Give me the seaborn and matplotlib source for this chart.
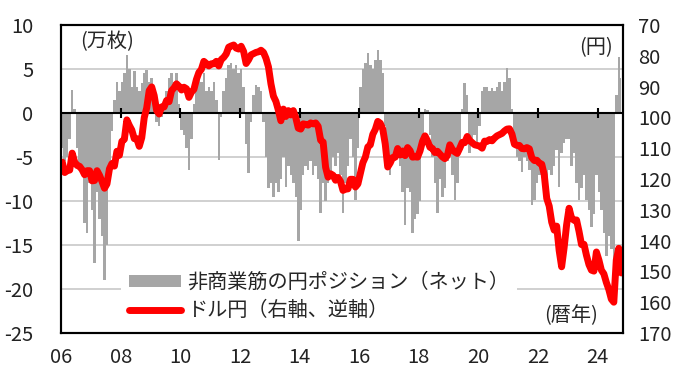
import matplotlib
matplotlib.use("Agg")
import numpy as np
import pandas as pd
import matplotlib.pyplot as plt
import seaborn as sns

# 非商業筋の円ポジション（ネット、万枚）, monthly, Jan 2006 - Oct 2024
pos_2006 = [-4, -5.5, -5, -3, 2.6, 0.5, -4, -6, -7, -12.5, -13.6, -8]
pos_2007 = [-11, -17, -9, -12, -14, -19, -15, -6, -2, 1.5, 3.5, 2.5]
pos_2008 = [3.5, 4.5, 6.6, 5, 3, 4.8, 3, 2.5, 3.4, 4.5, 4.9, 3.5]
pos_2009 = [4, 2, -1, -1.5, -0.5, 1.5, 2.5, 4, 4.5, 3.5, 4.5, 1]
pos_2010 = [-1.9, -2.5, -4, -6.5, -3, 1, 3, 4.5, 3.5, 4.5, 2.5, 3]
pos_2011 = [2.5, 3.5, 1.5, -5.3, -0.5, 2.5, 4, 5.5, 5.7, 5, 5.5, 4.5]
pos_2012 = [5, 3, -3.5, -6.8, -1, 2, 3.2, 3, 2.5, -1, -5, -8.5]
pos_2013 = [-8, -9.5, -8, -9, -7.5, -5, -8.4, -6, -7, -8, -9.5, -14.5]
pos_2014 = [-11, -7, -6, -6.5, -5.5, -7, -6, -7.5, -11.4, -8, -10, -8]
pos_2015 = [-7, -5, -6, -4.5, -7, -11.4, -8, -6, -3, -5, -9.9, -4]
pos_2016 = [3, 5, 5.7, 6.8, 5.5, 5, 6, 7.2, 6, 4.5, -1.5, -6]
pos_2017 = [-7, -5, -5.5, -4, -6, -9, -12.7, -8.5, -9, -13.6, -12, -11.5]
pos_2018 = [-10, -3.5, 0.5, 0.3, -2.5, -5, -8, -11.4, -7.5, -9.5, -8.5, -5.5]
pos_2019 = [-4, -7, -9.9, -8, -4.5, 0.5, 3.4, 2, -4.5, -3.5, -2.5, -3.5]
pos_2020 = [-1.5, 2.5, 3, 3, 2.5, 2.8, 2.5, 3, 3.5, 2.5, 3.5, 5.1]
pos_2021 = [4, 0.5, -3, -5, -5.5, -6.7, -5, -5.5, -6.5, -10.5, -9.9, -8]
pos_2022 = [-7, -6, -8.4, -7.3, -6.5, -7, -6, -4.2, -8.4, -4.5, -3.4, -3]
pos_2023 = [-3, -6, -4.5, -8, -9.9, -8.5, -7, -9.9, -11, -12.9, -11.5, -7]
pos_2024 = [-9, -11, -13.6, -16.3, -14, -15.5, -18, 2, 6.4, 4]

# ドル円（円）, monthly
fx_2006 = [114.5, 117.9, 117.3, 117.1, 111.6, 114.5, 115.6, 115.9, 117.0, 118.6, 117.3, 117.3]
fx_2007 = [120.6, 120.5, 117.3, 118.8, 120.8, 123.0, 121.6, 116.7, 115.0, 115.8, 111.0, 112.3]
fx_2008 = [107.8, 107.1, 100.8, 102.6, 104.1, 106.9, 106.9, 109.4, 106.6, 100.1, 96.9, 91.3]
fx_2009 = [90.1, 92.9, 97.8, 98.9, 96.6, 96.6, 94.5, 94.9, 91.3, 90.4, 89.1, 89.9]
fx_2010 = [91.1, 90.2, 90.7, 93.5, 91.8, 90.9, 87.7, 85.4, 84.4, 81.8, 82.5, 83.3]
fx_2011 = [82.6, 82.6, 81.8, 83.3, 81.2, 80.5, 79.4, 77.2, 76.8, 76.5, 77.5, 77.8]
fx_2012 = [76.9, 78.6, 82.5, 81.3, 79.7, 79.3, 78.9, 78.7, 78.2, 78.9, 80.8, 83.6]
fx_2013 = [89.1, 93.1, 94.8, 97.7, 101.1, 97.3, 99.7, 97.8, 99.2, 97.8, 100.1, 103.5]
fx_2014 = [103.8, 102.1, 102.3, 102.5, 101.8, 102.1, 101.8, 102.9, 107.4, 108.0, 116.2, 119.4]
fx_2015 = [118.3, 118.8, 120.4, 119.5, 120.8, 123.7, 123.3, 123.2, 120.1, 120.1, 122.6, 121.6]
fx_2016 = [118.2, 114.7, 112.9, 109.6, 108.9, 105.5, 103.9, 101.3, 101.9, 103.8, 108.6, 116.1]
fx_2017 = [114.8, 113.0, 112.9, 110.1, 112.2, 110.9, 112.4, 109.8, 110.8, 112.9, 112.8, 112.9]
fx_2018 = [110.9, 107.8, 106.0, 107.6, 109.7, 110.1, 111.4, 111.0, 111.9, 112.8, 113.4, 112.4]
fx_2019 = [108.9, 110.4, 111.2, 111.7, 110.0, 108.1, 108.2, 106.2, 107.5, 108.2, 108.9, 109.1]
fx_2020 = [109.3, 110.0, 107.7, 107.8, 107.2, 107.6, 106.7, 106.0, 105.6, 105.2, 104.4, 103.8]
fx_2021 = [103.7, 105.4, 108.7, 109.1, 109.1, 110.1, 110.2, 109.8, 110.2, 113.1, 114.0, 113.9]
fx_2022 = [114.8, 115.2, 118.6, 126.3, 128.8, 134.0, 136.6, 135.3, 143.2, 148.5, 142.3, 134.9]
fx_2023 = [129.5, 132.7, 133.4, 133.3, 137.0, 141.3, 141.2, 144.8, 147.8, 149.6, 149.9, 143.7]
fx_2024 = [146.3, 149.6, 150.8, 153.6, 155.9, 159.0, 160.0, 146.3, 142.5, 150.5]

tick_years = list(range(2006, 2025, 2))
tick_labels = [f"{y % 100:02d}" for y in tick_years]

position = np.concatenate([pos_2006, pos_2007, pos_2008, pos_2009, pos_2010, pos_2011,
                           pos_2012, pos_2013, pos_2014, pos_2015, pos_2016, pos_2017,
                           pos_2018, pos_2019, pos_2020, pos_2021, pos_2022, pos_2023, pos_2024])
usdjpy = np.concatenate([fx_2006, fx_2007, fx_2008, fx_2009, fx_2010, fx_2011,
                         fx_2012, fx_2013, fx_2014, fx_2015, fx_2016, fx_2017,
                         fx_2018, fx_2019, fx_2020, fx_2021, fx_2022, fx_2023, fx_2024])
t = 2006 + (np.arange(len(position)) + 0.5) / 12
df = pd.DataFrame({"t": t, "pos": position, "fx": usdjpy})

sns.set_theme(style="white")
plt.rcParams["font.family"] = ["Noto Sans CJK JP", "DejaVu Sans"]
plt.rcParams["axes.unicode_minus"] = False
fs = 14.5

fig = plt.figure(figsize=(6.8, 3.76), dpi=100)
ax = fig.add_axes([61 / 680, 43 / 376, 562 / 680, 308 / 376])

gray = ax.fill_between(df["t"], df["pos"], 0, step="mid", color="#a6a6a6", linewidth=0,
                       label="非商業筋の円ポジション（ネット）")
ax.axhline(0, color="black", lw=1.5, zorder=3)
ax.vlines(tick_years[1:], -0.6, 0.6, color="black", lw=1.5, zorder=3)
ax.set_ylim(-25, 10)
ax.set_yticks(range(-25, 11, 5))
ax.set_xlim(2006, 2024.85)
ax.set_xticks(tick_years)
ax.set_xticklabels(tick_labels)
ax.yaxis.grid(True, color="#c8c8c8", lw=1.2)
ax.xaxis.grid(False)
ax.set_axisbelow(True)
ax.tick_params(axis="y", length=0, pad=20, labelsize=fs, colors="#222222")
ax.tick_params(axis="x", length=0, pad=10, labelsize=fs, colors="#222222")

ax2 = ax.twinx()
sns.lineplot(data=df, x="t", y="fx", ax=ax2, color="#ff0000", lw=5,
             label="ドル円（右軸、逆軸）")
ax2.set_ylim(170, 70)
ax2.set_yticks(range(70, 171, 10))
ax2.set_xlabel("")
ax2.set_ylabel("")
ax2.tick_params(axis="y", length=0, pad=11, labelsize=fs, colors="#222222")
ax2.get_legend().remove()

for a in (ax, ax2):
    for s in a.spines.values():
        s.set_color("black")
        s.set_linewidth(1.5)

handles = [gray, ax2.get_lines()[0]]
labels = ["非商業筋の円ポジション（ネット）", "ドル円（右軸、逆軸）"]
leg = ax2.legend(handles, labels, loc="lower left", bbox_to_anchor=(0.088, -0.02),
                 fontsize=fs, frameon=True, facecolor="white", edgecolor="none",
                 framealpha=1, fancybox=False, borderpad=0.4, handlelength=2.6,
                 handleheight=0.5, handletextpad=0.3, labelspacing=0.35)
leg.set_zorder(2.4)

ax.text(0.034, 0.945, "(万枚)", transform=ax.transAxes, ha="left", va="center", fontsize=fs)
ax.text(0.982, 0.925, "(円)", transform=ax.transAxes, ha="right", va="center", fontsize=fs)
ax2.text(0.955, 0.055, "(暦年)", transform=ax.transAxes, ha="right", va="center", fontsize=fs,
         zorder=6)

fig.savefig("out.png", dpi=100)
